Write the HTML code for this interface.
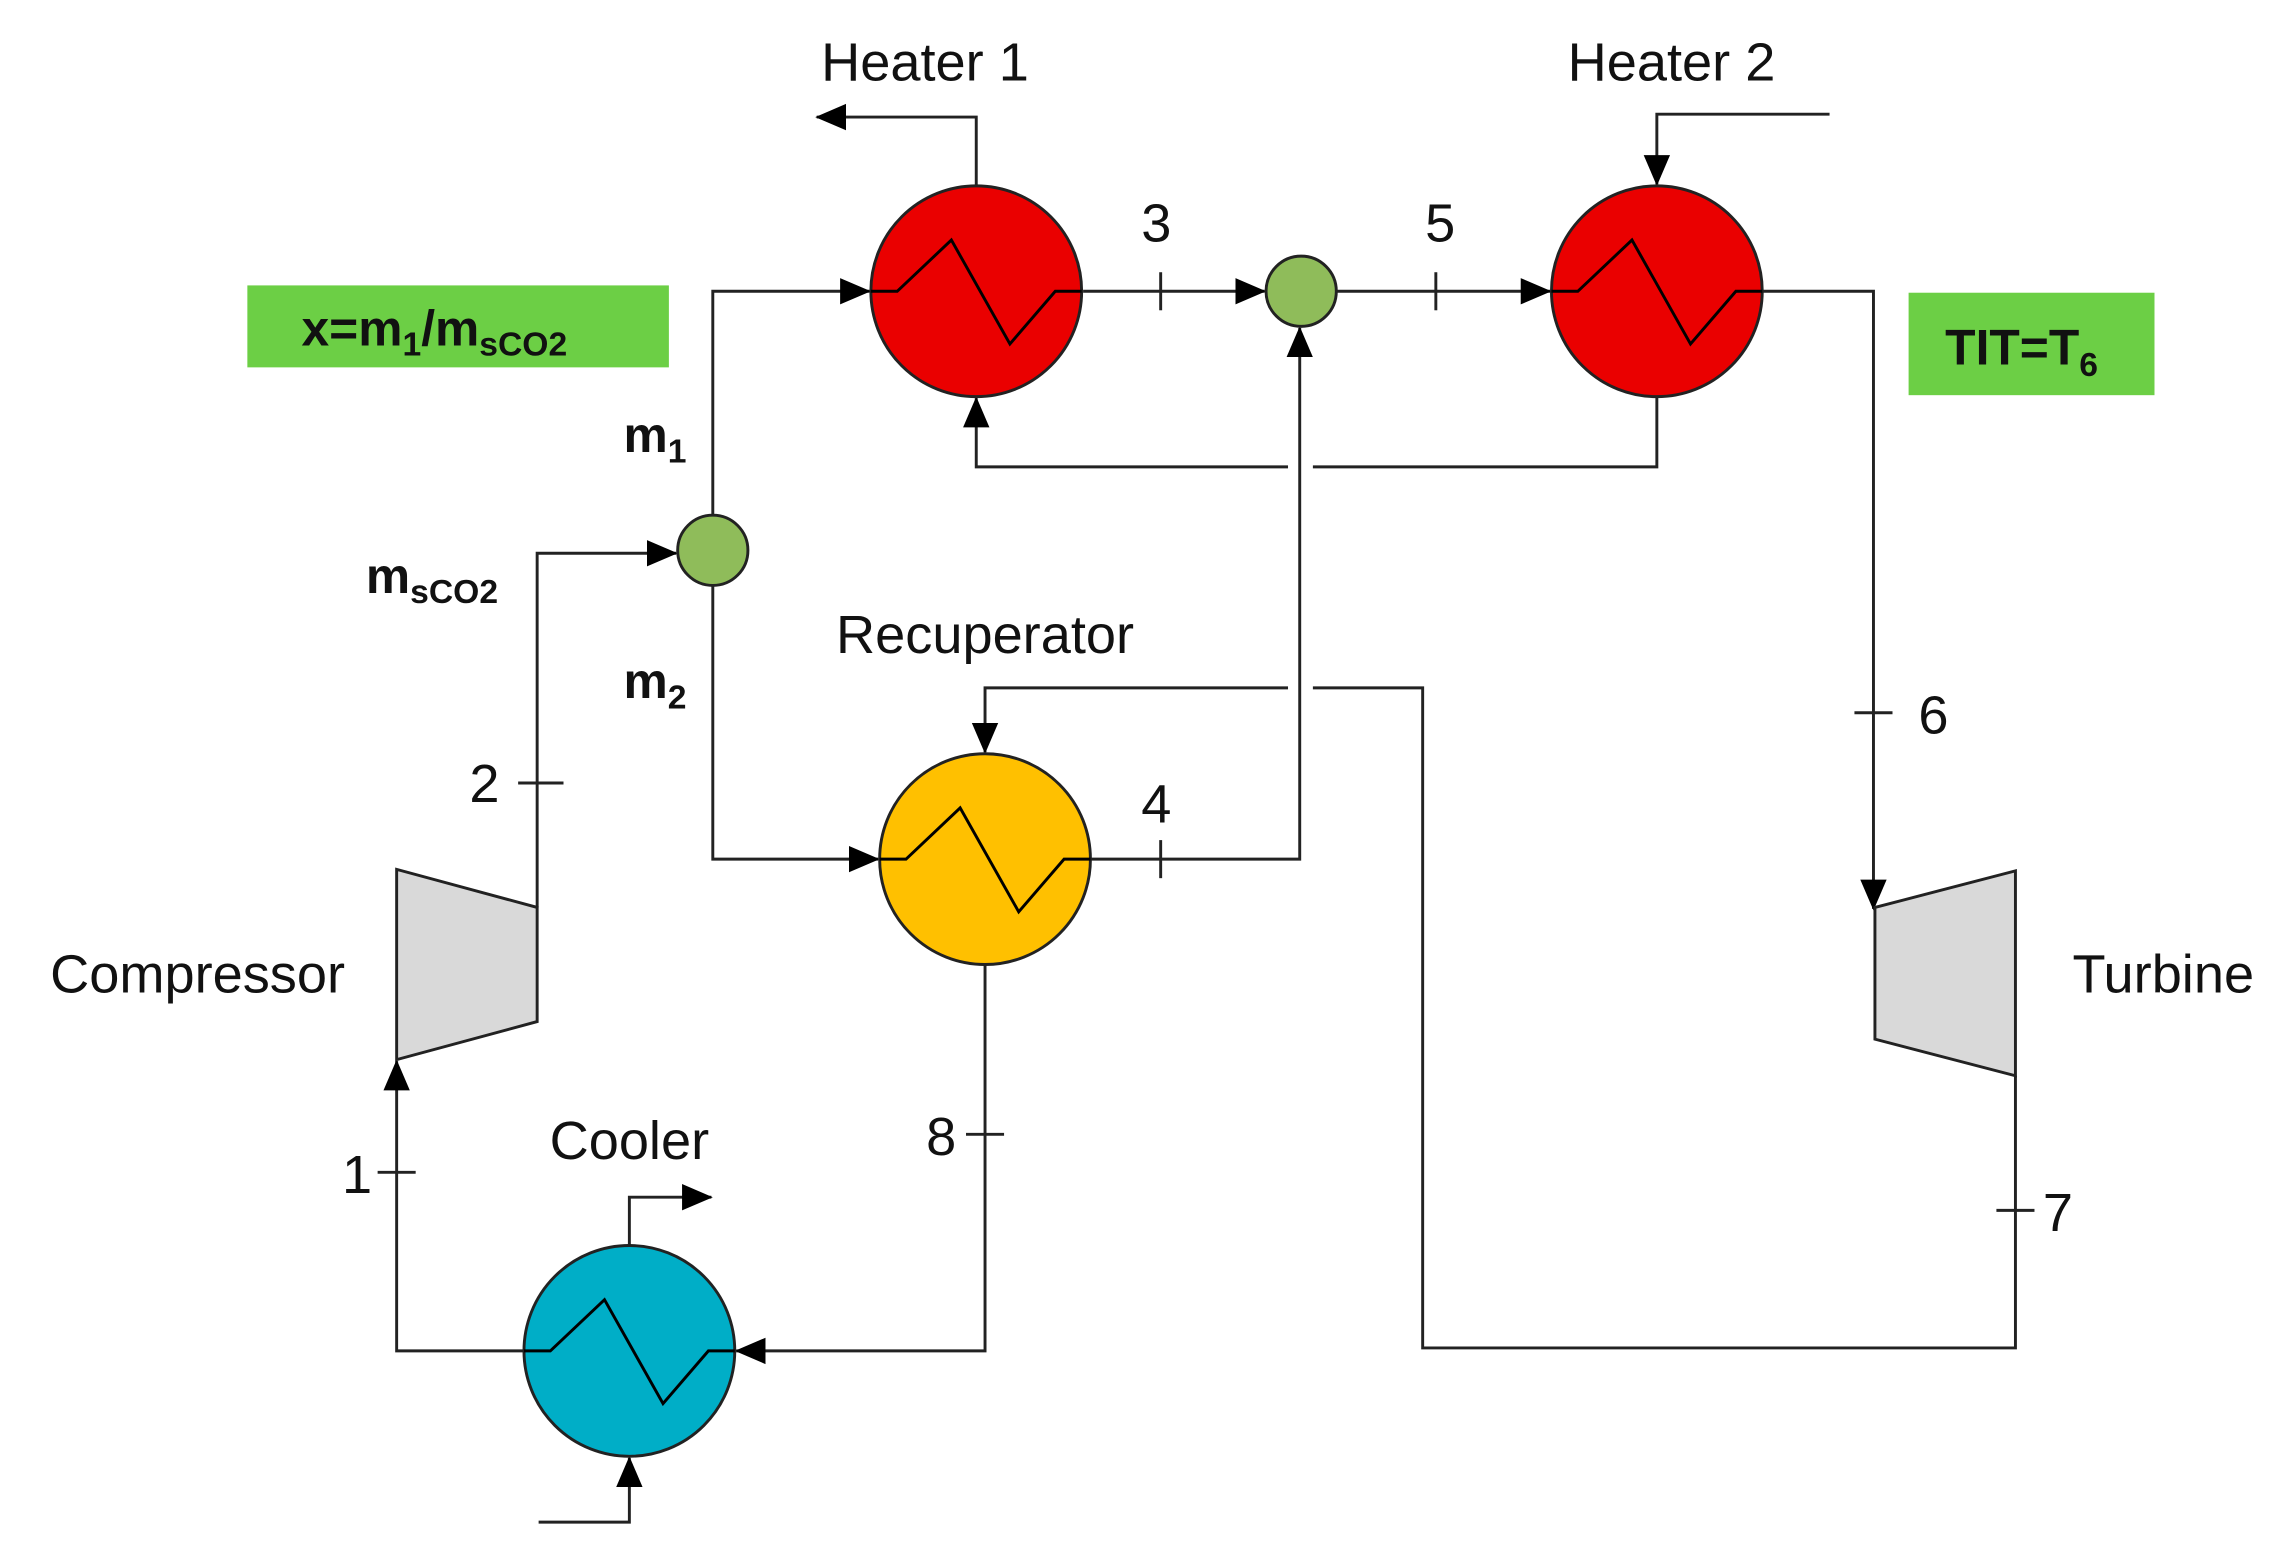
<!DOCTYPE html>
<html><head><meta charset="utf-8"><style>
html,body{margin:0;padding:0;background:#fff;}
svg{display:block;}
text{font-family:"Liberation Sans",sans-serif;fill:#111;}
</style></head><body>
<svg width="2295" height="1558" viewBox="0 0 1568 1064.5" preserveAspectRatio="none" xmlns="http://www.w3.org/2000/svg">
<defs>
<marker id="b" markerWidth="22" markerHeight="22" refX="20" refY="11" orient="auto" markerUnits="userSpaceOnUse" viewBox="0 0 22 22">
<path d="M0,2 L21,11 L0,20 z" fill="#000"/></marker>
<g id="zz"><polyline points="-72,0 -54,0 -17,-35 23,36 54,0 72,0" fill="none" stroke="#000" stroke-width="2"/></g>
</defs>
<g fill="none" stroke="#222" stroke-width="2">
<polyline points="667,127 667,80 558,80" marker-end="url(#b)"/>
<polyline points="740,199 864,199" marker-end="url(#b)"/>
<line x1="793" y1="186" x2="793" y2="212"/>
<polyline points="913,199 1059,199" marker-end="url(#b)"/>
<line x1="981" y1="186" x2="981" y2="212"/>
<polyline points="1250,78 1132,78 1132,126" marker-end="url(#b)"/>
<polyline points="1132,271 1132,319 897,319"/>
<polyline points="880,319 667,319 667,272" marker-end="url(#b)"/>
<polyline points="1204,199 1280,199 1280,621" marker-end="url(#b)"/>
<line x1="1267" y1="487" x2="1293" y2="487"/>
<polyline points="1377,735 1377,921 972,921 972,470 897,470"/>
<polyline points="880,470 673,470 673,514" marker-end="url(#b)"/>
<line x1="1364" y1="827" x2="1390" y2="827"/>
<polyline points="745,587 888,587 888,224" marker-end="url(#b)"/>
<line x1="793" y1="574" x2="793" y2="600"/>
<polyline points="487,352 487,199 594,199" marker-end="url(#b)"/>
<polyline points="487,400 487,587 600,587" marker-end="url(#b)"/>
<polyline points="367,620 367,378 462,378" marker-end="url(#b)"/>
<line x1="354" y1="535" x2="385" y2="535"/>
<polyline points="673,659 673,923 503,923" marker-end="url(#b)"/>
<line x1="660" y1="775" x2="686" y2="775"/>
<polyline points="358,923 271,923 271,725" marker-end="url(#b)"/>
<line x1="258" y1="801" x2="284" y2="801"/>
<polyline points="430,851 430,818 486,818" marker-end="url(#b)"/>
<polyline points="368,1040 430,1040 430,996" marker-end="url(#b)"/>
</g>
<circle cx="667" cy="199" r="72" fill="#EA0000" stroke="#222" stroke-width="2"/>
<use href="#zz" transform="translate(667,199)"/>
<circle cx="1132" cy="199" r="72" fill="#EA0000" stroke="#222" stroke-width="2"/>
<use href="#zz" transform="translate(1132,199)"/>
<circle cx="673" cy="587" r="72" fill="#FFC000" stroke="#222" stroke-width="2"/>
<use href="#zz" transform="translate(673,587)"/>
<circle cx="430" cy="923" r="72" fill="#00AEC7" stroke="#222" stroke-width="2"/>
<use href="#zz" transform="translate(430,923)"/>
<circle cx="889" cy="199" r="24" fill="#8FBC5A" stroke="#222" stroke-width="2"/>
<circle cx="487" cy="376" r="24" fill="#8FBC5A" stroke="#222" stroke-width="2"/>
<polygon points="271,594 367,620 367,698 271,724" fill="#D9D9D9" stroke="#222" stroke-width="2"/>
<polygon points="1281,620 1377,595 1377,735 1281,710" fill="#D9D9D9" stroke="#222" stroke-width="2"/>
<rect x="169" y="195" width="288" height="56" fill="#6CCF45"/>
<rect x="1304" y="200" width="168" height="70" fill="#6CCF45"/>
<g font-size="37" text-anchor="middle">
<text x="632" y="55">Heater 1</text>
<text x="1142" y="55">Heater 2</text>
<text x="673" y="446">Recuperator</text>
<text x="135" y="678">Compressor</text>
<text x="1478" y="678">Turbine</text>
<text x="430" y="792">Cooler</text>
<text x="790" y="165">3</text>
<text x="984" y="165">5</text>
<text x="790" y="562">4</text>
<text x="1321" y="501">6</text>
<text x="1406" y="841">7</text>
<text x="643" y="789">8</text>
<text x="331" y="548">2</text>
<text x="244" y="815">1</text>
</g>
<g font-weight="bold" font-size="34">
<text x="206" y="236">x=m<tspan font-size="23" dy="7">1</tspan><tspan dy="-7">/m</tspan><tspan font-size="23" dy="7">sCO2</tspan></text>
<text x="1329" y="249">TIT=T<tspan font-size="23" dy="8">6</tspan></text>
<text x="426" y="309">m<tspan font-size="23" dy="7">1</tspan></text>
<text x="250" y="405">m<tspan font-size="23" dy="7">sCO2</tspan></text>
<text x="426" y="477">m<tspan font-size="23" dy="7">2</tspan></text>
</g>
</svg>
</body></html>
